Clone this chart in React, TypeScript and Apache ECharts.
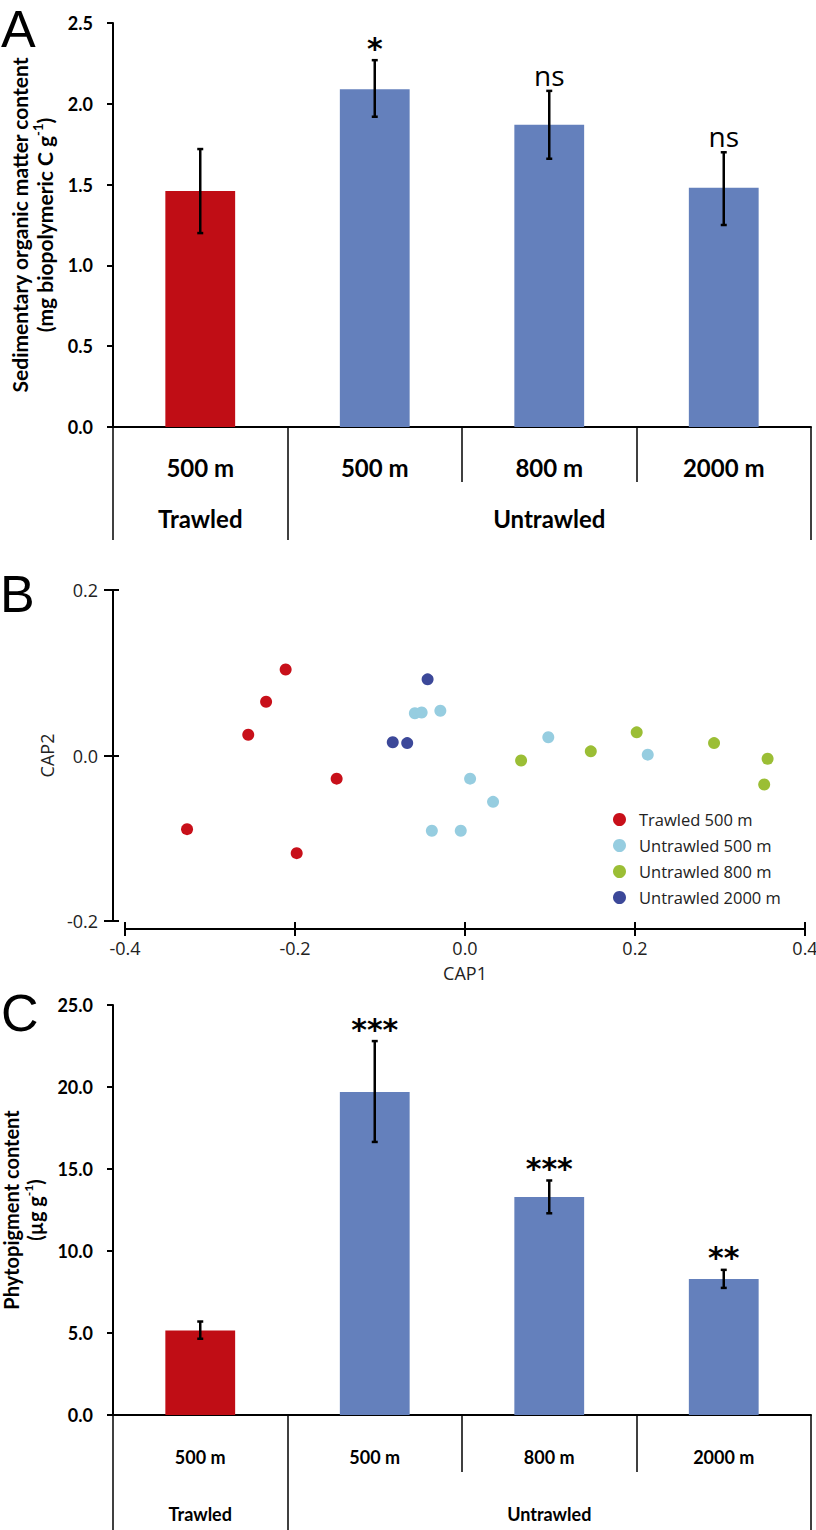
import React, { useEffect, useRef } from "react";
import * as echarts from "echarts";

// ---------- Data ----------
const categories = ["500 m", "500 m", "800 m", "2000 m"];
const groupLabels = ["Trawled", "", "Untrawled", ""];

// Panel A: sedimentary organic matter (mg biopolymeric C g-1)
const organicMean = [1.46, 2.09, 1.87, 1.48];
const organicLow = [1.2, 1.92, 1.66, 1.25];
const organicHigh = [1.72, 2.27, 2.08, 1.7];
const organicSig = ["", "*", "ns", "ns"];

// Panel C: phytopigment content (µg g-1)
const pigmentMean = [5.15, 19.7, 13.3, 8.3];
const pigmentLow = [4.65, 16.65, 12.3, 7.75];
const pigmentHigh = [5.7, 22.8, 14.3, 8.85];
const pigmentSig = ["", "***", "***", "**"];

// Panel B: CAP ordination [CAP1, CAP2]
const trawled500 = [
  [-0.211, 0.104], [-0.234, 0.065], [-0.255, 0.025],
  [-0.151, -0.028], [-0.327, -0.089], [-0.198, -0.118],
];
const untrawled500 = [
  [-0.059, 0.051], [-0.051, 0.052], [-0.029, 0.054], [0.098, 0.022],
  [0.215, 0.001], [0.006, -0.028], [0.033, -0.056], [-0.039, -0.091], [-0.005, -0.091],
];
const untrawled800 = [
  [0.066, -0.006], [0.148, 0.005], [0.202, 0.028],
  [0.293, 0.015], [0.356, -0.004], [0.352, -0.035],
];
const untrawled2000 = [[-0.044, 0.092], [-0.085, 0.016], [-0.068, 0.015]];

const seriesNames = ["Trawled 500 m", "Untrawled 500 m", "Untrawled 800 m", "Untrawled 2000 m"];

// ---------- Styles ----------
const RED = "#C00D15";
const BLUE = "#6480BC";
const barColors = [RED, BLUE, BLUE, BLUE];
const dotColors = ["#C8101A", "#96CDE0", "#9BBE35", "#3C4899"];
const BAR_FONT = "Lato";
const B_FONT = "Open Sans";

function makeErrorRenderer(sig: string[]) {
  return function (params: any, api: any) {
    const x = api.value(0);
    const lo = api.coord([x, api.value(1)]);
    const hi = api.coord([x, api.value(2)]);
    const w = 3;
    const st = { stroke: "#000", lineWidth: 2.5 };
    const s = sig[params.dataIndex] || "";
    const star = s.indexOf("*") >= 0;
    const children: any[] = [
      { type: "line", shape: { x1: lo[0], y1: lo[1], x2: hi[0], y2: hi[1] }, style: st },
      { type: "line", shape: { x1: lo[0] - w, y1: lo[1], x2: lo[0] + w, y2: lo[1] }, style: st },
      { type: "line", shape: { x1: hi[0] - w, y1: hi[1], x2: hi[0] + w, y2: hi[1] }, style: st },
    ];
    if (s) {
      children.push({
        type: "text",
        x: hi[0],
        y: hi[1] - (star ? 12 : 16),
        style: {
          text: s,
          fill: "#000",
          fontFamily: star ? "DejaVu Sans" : "Open Sans",
          fontWeight: star ? "bold" : "normal",
          fontSize: star ? 30 : 28,
          align: "center",
          verticalAlign: "middle",
        },
      });
    }
    return { type: "group", children };
  };
}

function catAxes(grid: number, labelSize: number, mainLen: number, mainMargin: number, groupLen: number, groupMargin: number) {
  const tickStyle = { color: "#000", width: 1.5 };
  const labelStyle = {
    interval: 0,
    fontFamily: BAR_FONT,
    fontWeight: "bold",
    fontSize: labelSize,
    color: "#000",
  };
  return [
    {
      type: "category",
      gridIndex: grid,
      data: categories,
      position: "bottom",
      axisLine: { show: true, lineStyle: { color: "#000", width: 2 } },
      axisTick: { show: true, length: mainLen, lineStyle: tickStyle },
      axisLabel: { ...labelStyle, margin: mainMargin },
      splitLine: { show: false },
    },
    {
      type: "category",
      gridIndex: grid,
      data: groupLabels,
      position: "bottom",
      offset: mainLen,
      axisLine: { show: false },
      axisTick: { show: true, length: groupLen, interval: (i: number) => i <= 1, lineStyle: tickStyle },
      axisLabel: { ...labelStyle, margin: groupMargin },
      splitLine: { show: false },
    },
  ];
}

function barYAxis(grid: number, max: number, interval: number, name: string, nameGap: number, nameSize: number, nameLH: number) {
  return {
    type: "value",
    gridIndex: grid,
    position: "left",
    min: 0,
    max,
    interval,
    axisLine: { show: true, lineStyle: { color: "#000", width: 2 } },
    axisTick: { show: true, length: 6, lineStyle: { color: "#000", width: 2 } },
    axisLabel: {
      margin: 20,
      fontFamily: BAR_FONT,
      fontWeight: "bold",
      fontSize: 18,
      color: "#000",
      formatter: (v: number) => v.toFixed(1),
    },
    splitLine: { show: false },
    name,
    nameLocation: "middle",
    nameRotate: 90,
    nameGap,
    nameTextStyle: {
      fontFamily: BAR_FONT,
      fontWeight: "bold",
      fontSize: nameSize,
      lineHeight: nameLH,
      color: "#000",
      rich: {
        sup: { fontFamily: BAR_FONT, fontWeight: "bold", fontSize: Math.round(nameSize * 0.6), lineHeight: 12, verticalAlign: "top", color: "#000" },
      },
    },
  };
}

function barSeries(x: number, y: number, mean: number[], low: number[], high: number[], sig: string[]) {
  return [
    {
      type: "bar",
      xAxisIndex: x,
      yAxisIndex: y,
      barWidth: "40%",
      data: mean.map((v, i) => ({ value: v, itemStyle: { color: barColors[i] } })),
    },
    {
      type: "custom",
      xAxisIndex: x,
      yAxisIndex: y,
      z: 5,
      clip: false,
      encode: { x: 0, y: [1, 2] },
      data: low.map((l, i) => [i, l, high[i]]),
      renderItem: makeErrorRenderer(sig),
    },
  ];
}

export default function App() {
  const ref = useRef<HTMLDivElement>(null);

  useEffect(() => {
    if (!ref.current) return;
    const chart = echarts.init(ref.current, undefined, { renderer: "svg" });

    const bFont = { fontFamily: B_FONT, fontSize: 18, color: "#222" };
    const tickSt = { color: "#000", width: 2 };

    const option: any = {
      animation: false,
      backgroundColor: "#fff",
      grid: [
        { left: 113, right: 5, top: 23, height: 404, outerBoundsMode: "none", containLabel: false },
        { left: 125, right: 11, top: 590, height: 331, outerBoundsMode: "none", containLabel: false },
        { left: 113, right: 5, top: 1005, height: 410, outerBoundsMode: "none", containLabel: false },
      ],
      legend: {
        data: seriesNames,
        orient: "vertical",
        left: 608,
        top: 806,
        icon: "circle",
        itemWidth: 13,
        itemHeight: 13,
        itemGap: 9,
        textStyle: { fontFamily: B_FONT, fontSize: 16.5, color: "#222", padding: [0, 0, 0, 8], lineHeight: 15 },
      },
      xAxis: [
        ...catAxes(0, 24, 55, 28, 58, 24),
        {
          type: "value",
          gridIndex: 1,
          position: "bottom",
          min: -0.4,
          max: 0.4,
          interval: 0.2,
          offset: 8,
          axisLine: { show: true, onZero: false, lineStyle: { color: "#000", width: 2 } },
          axisTick: { show: true, length: 7, lineStyle: tickSt },
          axisLabel: { ...bFont, margin: 10, formatter: (v: number) => v.toFixed(1) },
          splitLine: { show: false },
          name: "CAP1",
          nameLocation: "middle",
          nameGap: 35,
          nameTextStyle: bFont,
        },
        {
          type: "value",
          gridIndex: 1,
          position: "bottom",
          min: -0.4,
          max: 0.4,
          interval: 0.2,
          offset: 8,
          axisLine: { show: false, onZero: false },
          axisTick: { show: true, inside: true, length: 7, lineStyle: tickSt },
          axisLabel: { show: false },
          splitLine: { show: false },
        },
        ...catAxes(2, 18, 57, 33, 62, 33),
      ],
      yAxis: [
        barYAxis(0, 2.5, 0.5, "Sedimentary organic matter content\n(mg biopolymeric C g{sup|-1})", 50, 21, 25),
        {
          type: "value",
          gridIndex: 1,
          position: "left",
          min: -0.2,
          max: 0.2,
          interval: 0.2,
          offset: 12,
          axisLine: { show: true, onZero: false, lineStyle: { color: "#000", width: 2 } },
          axisTick: { show: true, length: 9, lineStyle: tickSt },
          axisLabel: { ...bFont, margin: 15, formatter: (v: number) => v.toFixed(1) },
          splitLine: { show: false },
          name: "CAP2",
          nameLocation: "middle",
          nameRotate: 90,
          nameGap: 50,
          nameTextStyle: bFont,
        },
        {
          type: "value",
          gridIndex: 1,
          position: "left",
          min: -0.2,
          max: 0.2,
          interval: 0.2,
          offset: 12,
          axisLine: { show: false, onZero: false },
          axisTick: { show: true, inside: true, length: 6, lineStyle: tickSt },
          axisLabel: { show: false },
          splitLine: { show: false },
        },
        barYAxis(2, 25, 5, "Phytopigment content\n(µg g{sup|-1})", 64, 20, 24),
      ],
      series: [
        ...barSeries(0, 0, organicMean, organicLow, organicHigh, organicSig),
        ...[trawled500, untrawled500, untrawled800, untrawled2000].map((d, i) => ({
          type: "scatter",
          name: seriesNames[i],
          xAxisIndex: 2,
          yAxisIndex: 1,
          symbolSize: 12,
          itemStyle: { color: dotColors[i], opacity: 1 },
          data: d,
        })),
        ...barSeries(4, 3, pigmentMean, pigmentLow, pigmentHigh, pigmentSig),
      ],
      graphic: [
        { type: "text", x: 1, y: 29, style: { text: "A", fontFamily: "Liberation Sans", fontSize: 52, fill: "#000", align: "left", verticalAlign: "middle" } },
        { type: "text", x: 0, y: 594, style: { text: "B", fontFamily: "Liberation Sans", fontSize: 52, fill: "#000", align: "left", verticalAlign: "middle" } },
        { type: "text", x: 1, y: 1013, style: { text: "C", fontFamily: "Liberation Sans", fontSize: 52, fill: "#000", align: "left", verticalAlign: "middle" } },
      ],
    };

    chart.setOption(option);
    return () => chart.dispose();
  }, []);

  return (
    <div
      ref={ref}
      style={{ position: "absolute", left: 0, top: 0, width: 816, height: 1530, background: "#fff" }}
    />
  );
}
